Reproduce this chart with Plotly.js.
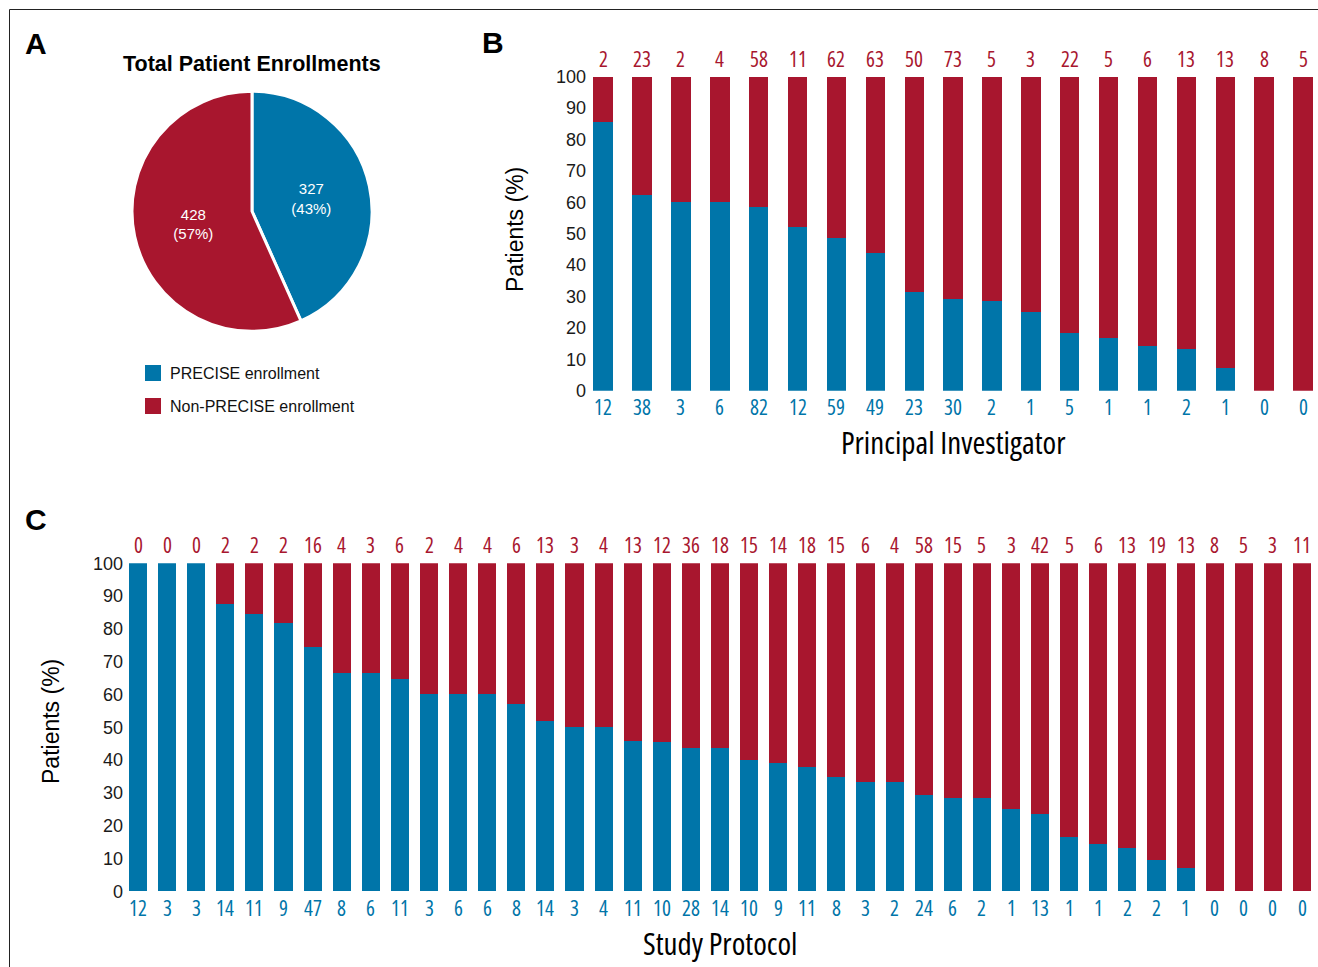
<!DOCTYPE html>
<html>
<head>
<meta charset="utf-8">
<script src="https://cdn.plot.ly/plotly-3.0.1.min.js"></script>
<style>
  html, body { margin: 0; padding: 0; background: #fff; }
  #chart { width: 1318px; height: 967px; }
  text[style*="Open Sans"] { font-stretch: 75% !important; }
</style>
</head>
<body>
<div id="chart"></div>
<script>
// ---- Data ----
const pieLabels = ['PRECISE enrollment', 'Non-PRECISE enrollment'];
const pieValues = [327, 428];

// Panel B: per Principal Investigator (counts)
const piPrecise    = [12, 38, 3, 6, 82, 12, 59, 49, 23, 30, 2, 1, 5, 1, 1, 2, 1, 0, 0];
const piNonPrecise = [2, 23, 2, 4, 58, 11, 62, 63, 50, 73, 5, 3, 22, 5, 6, 13, 13, 8, 5];

// Panel C: per Study Protocol (counts)
const protoPrecise    = [12, 3, 3, 14, 11, 9, 47, 8, 6, 11, 3, 6, 6, 8, 14, 3, 4, 11, 10,
                         28, 14, 10, 9, 11, 8, 3, 2, 24, 6, 2, 1, 13, 1, 1, 2, 2, 1, 0, 0, 0, 0];
const protoNonPrecise = [0, 0, 0, 2, 2, 2, 16, 4, 3, 6, 2, 4, 4, 6, 13, 3, 4, 13, 12,
                         36, 18, 15, 14, 18, 15, 6, 4, 58, 15, 5, 3, 42, 5, 6, 13, 19, 13, 8, 5, 3, 11];

const yTickVals = [0, 10, 20, 30, 40, 50, 60, 70, 80, 90, 100];

// ---- Styles ----
const BLUE = '#0075a9';
const RED = '#a8162e';
const W = 1318, H = 967;
const NARROW = '"Open Sans", "DejaVu Sans Condensed", sans-serif';
const SANS = '"Liberation Sans", Arial, Helvetica, sans-serif';

const piX = piPrecise.map((_, i) => i);
const protoX = protoPrecise.map((_, i) => i);

const px = v => v / W;
const py = v => 1 - v / H;

const data = [
  {
    type: 'pie', labels: pieLabels, values: pieValues, sort: false,
    direction: 'clockwise', rotation: 0,
    marker: { colors: [BLUE, RED], line: { color: '#ffffff', width: 3 } },
    texttemplate: '%{value}<br>(%{percent:.0%})', textposition: 'inside',
    insidetextorientation: 'horizontal',
    textfont: { family: SANS, size: 15, color: '#ffffff' },
    domain: { x: [px(132), px(372)], y: [py(331.5), py(91)] },
    showlegend: false, hoverinfo: 'label+value+percent'
  },
  { type: 'bar', name: 'PRECISE enrollment', x: piX, y: piPrecise, xaxis: 'x', yaxis: 'y',
    marker: { color: BLUE }, width: 0.5, showlegend: false },
  { type: 'bar', name: 'Non-PRECISE enrollment', x: piX, y: piNonPrecise, xaxis: 'x', yaxis: 'y',
    marker: { color: RED }, width: 0.5, showlegend: false },
  { type: 'bar', name: 'PRECISE enrollment', x: protoX, y: protoPrecise, xaxis: 'x2', yaxis: 'y2',
    marker: { color: BLUE }, width: 0.62, showlegend: false },
  { type: 'bar', name: 'Non-PRECISE enrollment', x: protoX, y: protoNonPrecise, xaxis: 'x2', yaxis: 'y2',
    marker: { color: RED }, width: 0.62, showlegend: false }
];

// axis geometry (pixel anchors)
const bSlot = (1303 - 603.2) / 18, bLeft = 590;
const cSlot = (1302 - 138) / 40, cLeft = 125;

const yAxisCommon = {
  range: [0, 100], tickvals: yTickVals, ticks: '', showgrid: false, zeroline: false,
  showline: false, tickfont: { family: SANS, size: 18, color: '#1a1a1a' }, fixedrange: true
};

const annotations = [];
const countFont = c => ({ family: NARROW, size: 21, color: c });
piX.forEach(i => {
  annotations.push({ xref: 'x', yref: 'y', x: i, y: 100, yshift: 17.5, yanchor: 'middle',
    text: String(piNonPrecise[i]), showarrow: false, font: countFont(RED) });
  annotations.push({ xref: 'x', yref: 'y', x: i, y: 0, yshift: -16, yanchor: 'middle',
    text: String(piPrecise[i]), showarrow: false, font: countFont(BLUE) });
});
protoX.forEach(i => {
  annotations.push({ xref: 'x2', yref: 'y2', x: i, y: 100, yshift: 18.5, yanchor: 'middle',
    text: String(protoNonPrecise[i]), showarrow: false, font: countFont(RED) });
  annotations.push({ xref: 'x2', yref: 'y2', x: i, y: 0, yshift: -17, yanchor: 'middle',
    text: String(protoPrecise[i]), showarrow: false, font: countFont(BLUE) });
});

// titles, panel letters, legend texts
const paperText = (x, y, text, font, extra) => Object.assign({
  xref: 'paper', yref: 'paper', x: px(x), y: py(y), text, showarrow: false,
  xanchor: 'center', yanchor: 'middle', font }, extra || {});

annotations.push(paperText(36, 44, '<b>A</b>', { family: SANS, size: 30, color: '#000' }));
annotations.push(paperText(493, 42, '<b>B</b>', { family: SANS, size: 30, color: '#000' }));
annotations.push(paperText(36, 519, '<b>C</b>', { family: SANS, size: 30, color: '#000' }));
annotations.push(paperText(252, 64, '<b>Total Patient Enrollments</b>', { family: SANS, size: 21.5, color: '#000' }));
annotations.push(paperText(168, 373, pieLabels[0], { family: SANS, size: 16, color: '#111' }, { xanchor: 'left' }));
annotations.push(paperText(168, 406, pieLabels[1], { family: SANS, size: 16, color: '#111' }, { xanchor: 'left' }));
annotations.push(paperText(953, 442, 'Principal Investigator', { family: NARROW, size: 31, color: '#000' }));
annotations.push(paperText(720, 943, 'Study Protocol', { family: NARROW, size: 31, color: '#000' }));
annotations.push(paperText(515, 230, 'Patients (%)', { family: SANS, size: 23, color: '#000' }, { textangle: -90 }));
annotations.push(paperText(51, 722, 'Patients (%)', { family: SANS, size: 23, color: '#000' }, { textangle: -90 }));

const shapes = [
  { type: 'rect', xref: 'paper', yref: 'paper', x0: px(145), x1: px(161), y0: py(381), y1: py(365),
    fillcolor: BLUE, line: { width: 0 } },
  { type: 'rect', xref: 'paper', yref: 'paper', x0: px(145), x1: px(161), y0: py(414), y1: py(398),
    fillcolor: RED, line: { width: 0 } },
  { type: 'line', xref: 'paper', yref: 'paper', x0: px(9.5), x1: 1, y0: py(9.5), y1: py(9.5),
    line: { color: '#222', width: 1 } },
  { type: 'line', xref: 'paper', yref: 'paper', x0: px(9.5), x1: px(9.5), y0: py(9.5), y1: 0,
    line: { color: '#222', width: 1 } }
];

const layout = {
  width: W, height: H,
  margin: { l: 0, r: 0, t: 0, b: 0 },
  paper_bgcolor: '#fff', plot_bgcolor: '#fff',
  barmode: 'stack', barnorm: 'percent',
  showlegend: false,
  xaxis: { domain: [px(bLeft), 1], range: [(bLeft - 603.2) / bSlot, (W - 603.2) / bSlot],
    showticklabels: false, ticks: '', showgrid: false, zeroline: false, showline: false,
    anchor: 'y', fixedrange: true },
  yaxis: Object.assign({ domain: [py(390.7), py(76.7)], anchor: 'x', ticklabelstandoff: 3 }, yAxisCommon),
  xaxis2: { domain: [px(cLeft), 1], range: [(cLeft - 138) / cSlot, (W - 138) / cSlot],
    showticklabels: false, ticks: '', showgrid: false, zeroline: false, showline: false,
    anchor: 'y2', fixedrange: true },
  yaxis2: Object.assign({ domain: [py(891.3), py(563.3)], anchor: 'x2', ticklabelstandoff: 1 }, yAxisCommon),
  annotations, shapes
};

Plotly.newPlot('chart', data, layout, { displayModeBar: false, staticPlot: true });
</script>
</body>
</html>
